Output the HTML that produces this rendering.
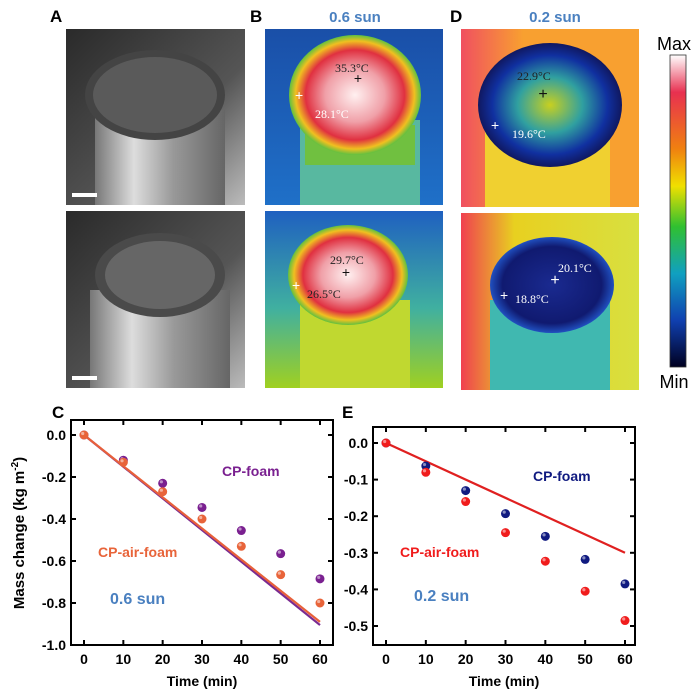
<!DOCTYPE html>
<html><head><meta charset="utf-8"><style>
body{margin:0;background:#fff;}
svg{display:block;font-family:"Liberation Sans",Arial,sans-serif;}
</style></head><body>
<svg id="fig" width="700" height="700" viewBox="0 0 700 700">
<defs>
<linearGradient id="photoBg" x1="0" y1="0" x2="1" y2="1"><stop offset="0" stop-color="#2a2a2a"/><stop offset="0.6" stop-color="#555"/><stop offset="1" stop-color="#bbb"/></linearGradient>
<linearGradient id="jar" x1="0" x2="1"><stop offset="0" stop-color="#777"/><stop offset="0.3" stop-color="#ddd"/><stop offset="0.6" stop-color="#999"/><stop offset="1" stop-color="#666"/></linearGradient>
<radialGradient id="hot6"><stop offset="0" stop-color="#fff0f0"/><stop offset="0.45" stop-color="#f0a0a8"/><stop offset="0.75" stop-color="#e03040"/><stop offset="0.9" stop-color="#f0c020"/><stop offset="1" stop-color="#60c040"/></radialGradient>
<linearGradient id="bg6" x1="0" y1="0" x2="0" y2="1"><stop offset="0" stop-color="#1a4fa8"/><stop offset="1" stop-color="#1f70c8"/></linearGradient>
<linearGradient id="bg6b" x1="0" y1="0" x2="0" y2="1"><stop offset="0" stop-color="#1f60c0"/><stop offset="0.55" stop-color="#40b0a0"/><stop offset="1" stop-color="#a0d020"/></linearGradient>
<radialGradient id="cold2"><stop offset="0" stop-color="#c8d020"/><stop offset="0.45" stop-color="#30a0a0"/><stop offset="0.8" stop-color="#1030a0"/><stop offset="1" stop-color="#101860"/></radialGradient>
<radialGradient id="cold2b"><stop offset="0" stop-color="#1a2a90"/><stop offset="0.8" stop-color="#101a70"/><stop offset="1" stop-color="#2050c0"/></radialGradient>
<linearGradient id="bg2" x1="0" x2="1"><stop offset="0" stop-color="#f05060"/><stop offset="0.35" stop-color="#f8a030"/><stop offset="1" stop-color="#f8a030"/></linearGradient>
<linearGradient id="bg2b" x1="0" x2="1"><stop offset="0" stop-color="#f04050"/><stop offset="0.3" stop-color="#e8d020"/><stop offset="1" stop-color="#d8e040"/></linearGradient>
<linearGradient id="cbar" x1="0" y1="0" x2="0" y2="1"><stop offset="0" stop-color="#ffffff"/><stop offset="0.12" stop-color="#e83050"/><stop offset="0.3" stop-color="#f08010"/><stop offset="0.42" stop-color="#f0e000"/><stop offset="0.55" stop-color="#30c030"/><stop offset="0.7" stop-color="#10a0c0"/><stop offset="0.85" stop-color="#1040b0"/><stop offset="1" stop-color="#000020"/></linearGradient>
</defs>

<text x="50" y="22" font-size="17" font-weight="bold">A</text>
<text x="250" y="22" font-size="17" font-weight="bold">B</text>
<text x="450" y="22" font-size="17" font-weight="bold">D</text>
<text x="355" y="22" font-size="15" font-weight="bold" fill="#4a80c0" text-anchor="middle">0.6 sun</text>
<text x="555" y="22" font-size="15" font-weight="bold" fill="#4a80c0" text-anchor="middle">0.2 sun</text>

<g>
<rect x="66" y="29" width="179" height="176" fill="url(#photoBg)"/>
<rect x="95" y="110" width="130" height="95" fill="url(#jar)"/>
<ellipse cx="155" cy="95" rx="70" ry="45" fill="#444"/>
<ellipse cx="155" cy="95" rx="62" ry="38" fill="#5a5a5a"/>
<rect x="72" y="193" width="25" height="4" fill="#fff"/>
</g>
<g>
<rect x="66" y="211" width="179" height="177" fill="url(#photoBg)"/>
<rect x="90" y="290" width="140" height="98" fill="url(#jar)"/>
<ellipse cx="160" cy="275" rx="65" ry="42" fill="#4a4a4a"/>
<ellipse cx="160" cy="275" rx="55" ry="34" fill="#666"/>
<rect x="72" y="376" width="25" height="4" fill="#fff"/>
</g>

<g>
<rect x="265" y="29" width="178" height="176" fill="url(#bg6)"/>
<rect x="300" y="120" width="120" height="85" fill="#58b8a0"/>
<rect x="305" y="125" width="110" height="40" fill="#70c040"/>
<ellipse cx="355" cy="95" rx="66" ry="60" fill="url(#hot6)"/>
<text x="335" y="72" font-family="Liberation Serif" font-size="12" fill="#222">35.3°C</text>
<text x="358" y="83" font-size="14" text-anchor="middle" fill="#111">+</text>
<text x="295" y="100" font-size="14" fill="#fff">+</text>
<text x="315" y="118" font-family="Liberation Serif" font-size="12" fill="#fff">28.1°C</text>
</g>
<g>
<rect x="265" y="211" width="178" height="177" fill="url(#bg6b)"/>
<rect x="300" y="300" width="110" height="88" fill="#c0d830"/>
<ellipse cx="348" cy="275" rx="60" ry="50" fill="url(#hot6)"/>
<text x="330" y="264" font-family="Liberation Serif" font-size="12" fill="#222">29.7°C</text>
<text x="346" y="277" font-size="14" text-anchor="middle" fill="#111">+</text>
<text x="292" y="290" font-size="14" fill="#fff">+</text>
<text x="307" y="298" font-family="Liberation Serif" font-size="12" fill="#222">26.5°C</text>
</g>

<g>
<rect x="461" y="29" width="178" height="178" fill="url(#bg2)"/>
<rect x="485" y="130" width="125" height="77" fill="#f0d030"/>
<ellipse cx="550" cy="105" rx="72" ry="62" fill="url(#cold2)"/>
<text x="517" y="80" font-family="Liberation Serif" font-size="12" fill="#222">22.9°C</text>
<text x="543" y="99" font-size="16" text-anchor="middle" fill="#111">+</text>
<text x="491" y="130" font-size="14" fill="#fff">+</text>
<text x="512" y="138" font-family="Liberation Serif" font-size="12" fill="#fff">19.6°C</text>
</g>
<g>
<rect x="461" y="213" width="178" height="177" fill="url(#bg2b)"/>
<rect x="490" y="300" width="120" height="90" fill="#40b8b0"/>
<ellipse cx="552" cy="285" rx="62" ry="48" fill="url(#cold2b)"/>
<text x="558" y="272" font-family="Liberation Serif" font-size="12" fill="#fff">20.1°C</text>
<text x="555" y="285" font-size="16" text-anchor="middle" fill="#fff">+</text>
<text x="500" y="300" font-size="14" fill="#fff">+</text>
<text x="515" y="303" font-family="Liberation Serif" font-size="12" fill="#fff">18.8°C</text>
</g>

<g>
<text x="674" y="50" font-size="18" text-anchor="middle" fill="#000">Max</text>
<rect x="670" y="55" width="16" height="312" fill="url(#cbar)" stroke="#333" stroke-width="0.8"/>
<text x="674" y="388" font-size="18" text-anchor="middle" fill="#000">Min</text>
</g>

<text x="52" y="418" font-size="17" font-weight="bold">C</text>
<text x="342" y="418" font-size="17" font-weight="bold">E</text>
<text transform="translate(24,533) rotate(-90)" font-size="15" font-weight="bold" text-anchor="middle">Mass change (kg m<tspan dy="-6" font-size="10">-2</tspan><tspan dy="6">)</tspan></text>

<g id="chartC"></g>
<g id="chartE"></g>
</svg>
<script>
const timesC = [0,10,20,30,40,50,60];
const cpFoamC = [0,-0.12,-0.23,-0.345,-0.455,-0.565,-0.685];
const airFoamC = [0,-0.13,-0.27,-0.40,-0.53,-0.665,-0.80];
const fitCpFoamC = [0,-0.905];
const fitAirFoamC = [0,-0.89];
const yTicksC = [0.0,-0.2,-0.4,-0.6,-0.8,-1.0];
const xTicks = [0,10,20,30,40,50,60];

const timesE = [0,10,20,30,40,50,60];
const cpFoamE = [0,-0.063,-0.13,-0.193,-0.255,-0.318,-0.385];
const airFoamE = [0,-0.08,-0.16,-0.245,-0.323,-0.405,-0.485];
const fitE = [0,-0.30];
const yTicksE = [0.0,-0.1,-0.2,-0.3,-0.4,-0.5];

const NS='http://www.w3.org/2000/svg';
function mk(parent,tag,attrs,txt){const e=document.createElementNS(NS,tag);for(const k in attrs)e.setAttribute(k,attrs[k]);if(txt!==undefined)e.textContent=txt;parent.appendChild(e);return e;}

function drawChart(g,cfg){
  const X=v=>cfg.x0+(v-cfg.xmin)/(cfg.xmax-cfg.xmin)*(cfg.x1-cfg.x0);
  const Y=v=>cfg.y0+(cfg.ymax-v)/(cfg.ymax-cfg.ymin)*(cfg.y1-cfg.y0);
  const f=cfg.frame;
  const fr=mk(g,'rect',{x:f[0],y:f[1],width:f[2]-f[0],height:f[3]-f[1],fill:'none',stroke:'#000','stroke-width':2});
  
  
  cfg.xt.forEach(t=>{
    const x=X(t);
    mk(g,'line',{x1:x,x2:x,y1:f[3],y2:f[3]-5,stroke:'#000','stroke-width':2});
    mk(g,'line',{x1:x,x2:x,y1:f[1],y2:f[1]+5,stroke:'#000','stroke-width':2});
    const l=mk(g,'text',{x:x,y:f[3]+19,'font-size':14,'font-weight':'bold','text-anchor':'middle'},String(t));
    
    
  });
  cfg.yt.forEach(t=>{
    const y=Y(t);
    mk(g,'line',{x1:f[0],x2:f[0]+5,y1:y,y2:y,stroke:'#000','stroke-width':2});
    mk(g,'line',{x1:f[2],x2:f[2]-5,y1:y,y2:y,stroke:'#000','stroke-width':2});
    const l=mk(g,'text',{x:f[0]-5,y:y+5,'font-size':14,'font-weight':'bold','text-anchor':'end'},t.toFixed(1));
    
    
  });
  const xl=mk(g,'text',{x:(f[0]+f[2])/2,y:f[3]+41,'font-size':14,'font-weight':'bold','text-anchor':'middle'},'Time (min)');
  
  
  cfg.lines.forEach(ln=>{
    const l=mk(g,'line',{x1:X(cfg.times[0]),y1:Y(ln.v[0]),x2:X(cfg.times[cfg.times.length-1]),y2:Y(ln.v[1]),stroke:ln.c,'stroke-width':2.2});
    
    
  });
  cfg.series.forEach(s=>{
    s.v.forEach((v,i)=>{
      const c=mk(g,'circle',{cx:X(cfg.times[i]),cy:Y(v),r:4.5,fill:s.c});
      
      
      mk(g,'circle',{cx:X(cfg.times[i])-1.3,cy:Y(v)-1.5,r:1.6,fill:'#fff','fill-opacity':0.5});
    });
  });
  cfg.labels.forEach(lb=>{
    const t=mk(g,'text',{x:lb.x,y:lb.y,'font-size':lb.s,'font-weight':'bold',fill:lb.c},lb.t);
    
    
  });
}

drawChart(document.getElementById('chartC'),{
  x0:84,x1:320,xmin:0,xmax:60,y0:435,y1:645,ymax:0,ymin:-1,frame:[71,420,333,645],
  xt:xTicks,yt:yTicksC,times:timesC,
  lines:[{v:fitCpFoamC,c:'#7a2a90',name:'fit-line-cp-foam'},{v:fitAirFoamC,c:'#e8603a',name:'fit-line-cp-air-foam'}],
  series:[{v:cpFoamC,c:'#7a2090',name:'point-cp-foam'},{v:airFoamC,c:'#e8643a',name:'point-cp-air-foam'}],
  labels:[{x:222,y:476,s:14,c:'#7a2090',t:'CP-foam',name:'legend-cp-foam'},{x:98,y:557,s:14,c:'#e8643a',t:'CP-air-foam',name:'legend-cp-air-foam'},{x:110,y:604,s:16,c:'#4a80c0',t:'0.6 sun',name:'condition-label'}]
});
drawChart(document.getElementById('chartE'),{
  x0:386,x1:625,xmin:0,xmax:60,y0:443,y1:626,ymax:0,ymin:-0.5,frame:[373,427,635,645],
  xt:xTicks,yt:yTicksE,times:timesE,
  lines:[{v:fitE,c:'#e02020',name:'fit-line'}],
  series:[{v:cpFoamE,c:'#101a80',name:'point-cp-foam'},{v:airFoamE,c:'#f01c1c',name:'point-cp-air-foam'}],
  labels:[{x:533,y:481,s:14,c:'#101a80',t:'CP-foam',name:'legend-cp-foam'},{x:400,y:557,s:14,c:'#f01c1c',t:'CP-air-foam',name:'legend-cp-air-foam'},{x:414,y:601,s:16,c:'#4a80c0',t:'0.2 sun',name:'condition-label'}]
});
</script>
</body></html>
